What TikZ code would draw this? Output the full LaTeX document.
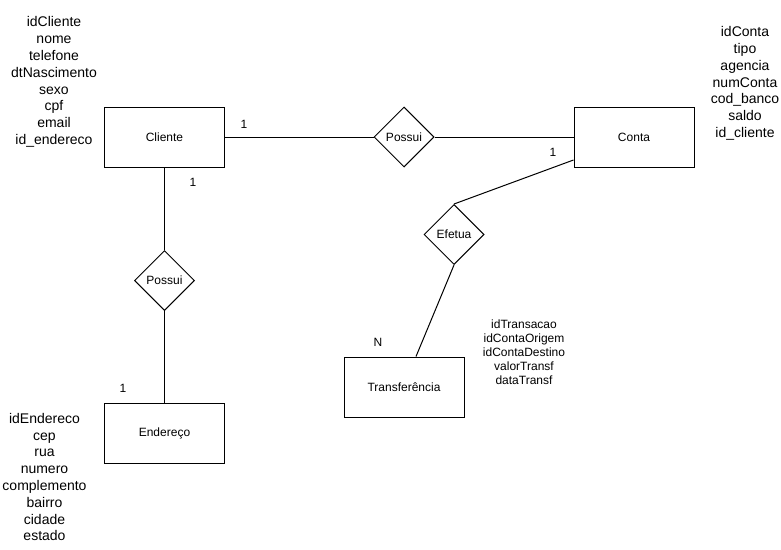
\documentclass[tikz,border=0pt]{standalone}
\usepackage{fontspec}
\setmainfont{Liberation Sans}
\usetikzlibrary{shapes.geometric}

\tikzset{
	entidade/.style={draw, line width=1pt, minimum width=120pt, minimum height=60pt,
		inner sep=0pt, font=\fontsize{12}{14.4}\selectfont},
	relacao/.style={draw, diamond, line width=1pt, minimum width=60pt, minimum height=60pt,
		inner sep=0pt, font=\fontsize{12}{14.4}\selectfont},
	atributos/.style={align=center, inner sep=0pt, font=\fontsize{14}{16.8}\selectfont},
	atributosp/.style={align=center, inner sep=0pt, font=\fontsize{12}{14}\selectfont},
	card/.style={inner sep=0pt, font=\fontsize{12}{14.4}\selectfont},
	liga/.style={line width=1pt}
}

\begin{document}
\begin{tikzpicture}[x=1pt, y=-1pt]

	\useasboundingbox (0,0) rectangle (781,549);

	\node[entidade] (cliente)  at (164.5,137) {Cliente};
	\node[entidade] (conta)    at (634,137)   {Conta};
	\node[entidade] (endereco) at (164.5,433) {Endereço};
	\node[entidade] (transf)   at (404,387)   {Transferência};

	\node[relacao] (possuiConta) at (404,137)   {Possui};
	\node[relacao] (possuiEnd)   at (164.5,280.5) {Possui};
	\node[relacao] (efetua)      at (454,234.5) {Efetua};

	\draw[liga] (cliente.east) -- (possuiConta.west);
	\draw[liga] (possuiConta.east) -- (conta.west);
	\draw[liga] (cliente.south) -- (possuiEnd.north);
	\draw[liga] (possuiEnd.south) -- (endereco.north);
	\draw[liga] (efetua.north) -- ([yshift=-23pt]conta.west);
	\draw[liga] (efetua.south) -- ([xshift=12pt]transf.north);

	\node[card] (c1) at (244,124) {1};
	\node[card] (c2) at (193,182) {1};
	\node[card] (c3) at (553,152) {1};
	\node[card] (c4) at (123,388) {1};
	\node[card] (c5) at (378,342) {N};

	\node[atributos] (attCliente) at (54,82)
		{idCliente\\nome\\telefone\\dtNascimento\\sexo\\cpf\\email\\id\_endereco};
	\node[atributos] (attConta) at (745,83.5)
		{idConta\\tipo\\agencia\\numConta\\cod\_banco\\saldo\\id\_cliente};
	\node[atributos] (attEndereco) at (44.5,477)
		{idEndereco\\cep\\rua\\numero\\complemento\\bairro\\cidade\\estado};
	\node[atributosp] (attTransf) at (524,352)
		{idTransacao\\idContaOrigem\\idContaDestino\\valorTransf\\dataTransf};

\end{tikzpicture}
\end{document}
